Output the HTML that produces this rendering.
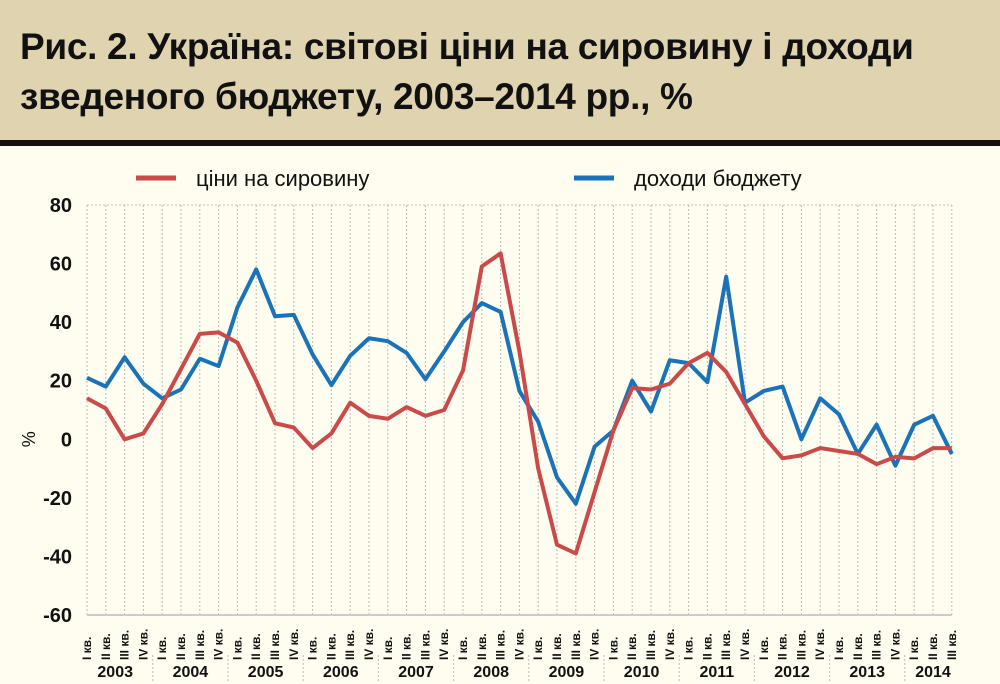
<!DOCTYPE html>
<html><head><meta charset="utf-8"><style>
body{margin:0;width:1000px;height:684px;background:#fffcf0;overflow:hidden;font-family:"Liberation Sans",sans-serif}
#hdr{position:absolute;left:0;top:0;width:1000px;height:140px;background:#e0d3b0}
#bar{position:absolute;left:0;top:140px;width:1000px;height:6px;background:#111}
#title{position:absolute;left:20px;top:22px;font-size:37px;font-weight:bold;line-height:50px;color:#111;letter-spacing:-0.3px}
svg{position:absolute;left:0;top:0}
</style></head><body>
<div id="hdr"></div>
<div id="bar"></div>
<div id="title">Рис. 2. Україна: світові ціни на сировину і доходи<br>зведеного бюджету, 2003–2014 рр., %</div>
<svg id="c" width="1000" height="684"></svg>
<script>
const years=["2003","2004","2005","2006","2007","2008","2009","2010","2011","2012","2013","2014"];
const quarters=["I кв.","II кв.","III кв.","IV кв."];
const prices=[14,10.5,0,2, 12,24,36,36.5, 33,20,5.5,4, -3,2,12.5,8, 7,11,8,10, 23.5,59,63.5,30, -10,-36,-39,-18, 3,17.5,17,19, 26,29.5,23,12, 1,-6.5,-5.5,-3, -4,-5,-8.5,-6, -6.5,-3,-3];
const revenue=[21,18,28,19, 14,17,27.5,25, 45,58,42,42.5, 29,18.5,28.5,34.5, 33.5,29.5,20.5,30, 40,46.5,43.5,16.5, 6,-13,-22,-2.5, 3,20,9.5,27, 26,19.5,55.5,12.5, 16.5,18,0,14, 8.5,-5,5,-9, 5,8,-5];
const yTicks=[80,60,40,20,0,-20,-40,-60];
const NS="http://www.w3.org/2000/svg",svg=document.getElementById('c');
const x0=87,dx=18.8,yTop=205,yBot=615,vMax=80,vMin=-60;
const X=i=>x0+i*dx, Y=v=>yTop+(vMax-v)/(vMax-vMin)*(yBot-yTop);
function mk(t,a,txt){const e=document.createElementNS(NS,t);for(const k in a)e.setAttribute(k,a[k]);if(txt!=null)e.textContent=txt;svg.appendChild(e);return e;}
const n=prices.length;
for(let i=0;i<n;i++){const g=mk('line',{x1:X(i),x2:X(i),y1:yTop,y2:yBot,stroke:'#bbb','stroke-dasharray':'2,2','stroke-width':1});

}
const tl=mk('line',{x1:X(0),x2:X(n-1),y1:yTop,y2:yTop,stroke:'#bbb','stroke-dasharray':'2,2'});

const ax=mk('line',{x1:X(0),x2:X(n-1),y1:yBot,y2:yBot,stroke:'#ccc','stroke-width':2});

yTicks.forEach(v=>{const t=mk('text',{x:72,y:Y(v)+7,'text-anchor':'end','font-size':20,'font-weight':'bold',fill:'#111'},v);

});
const yt=mk('text',{x:29,y:Y(0)+6,'text-anchor':'middle','font-size':18,fill:'#111',transform:`rotate(-90 29 ${Y(0)})`},'%');

for(let i=0;i<n;i++){const t=mk('text',{x:0,y:0,'font-size':12,'font-weight':'bold',fill:'#111',transform:`translate(${X(i)+4},${660}) rotate(-90)`},quarters[i%4]);

}
years.forEach((yr,k)=>{const last=Math.min(k*4+3,n-1);const cx=(X(k*4)+X(last))/2;
const t=mk('text',{x:cx,y:677,'text-anchor':'middle','font-size':16,'font-weight':'bold',fill:'#111'},yr);


if(k>0){const s=mk('line',{x1:X(k*4-0.5),x2:X(k*4-0.5),y1:655,y2:682,stroke:'#bbb','stroke-dasharray':'2,2'});

}});
function series(d,c,name){const p=mk('polyline',{points:d.map((v,i)=>X(i)+','+Y(v)).join(' '),fill:'none',stroke:c,'stroke-width':4,'stroke-linejoin':'round'});

}
series(revenue,'#1a72b8','revenue-line');
series(prices,'#c94a48','prices-line');
const l1=mk('line',{x1:136,x2:176,y1:178,y2:178,stroke:'#c94a48','stroke-width':5});

const t1=mk('text',{x:196,y:186,'font-size':22,fill:'#111'},'ціни на сировину');

const l2=mk('line',{x1:574,x2:614,y1:178,y2:178,stroke:'#1a72b8','stroke-width':5});

const t2=mk('text',{x:634,y:186,'font-size':22,fill:'#111'},'доходи бюджету');

</script>
</body></html>
